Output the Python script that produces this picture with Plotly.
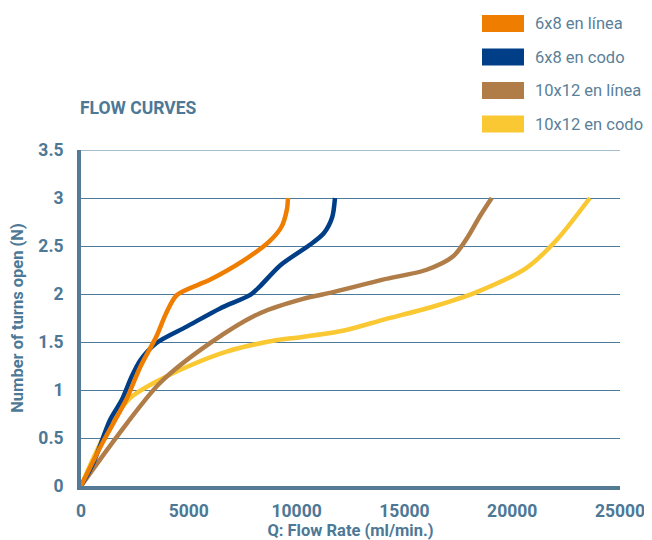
import plotly.graph_objects as go

# Data
names = ['6x8 en línea', '6x8 en codo', '10x12 en línea', '10x12 en codo']
colors = ['#EF7D00', '#003F87', '#B07D48', '#FAC832']

q_6x8_linea = [0, 1000, 2100, 2750, 3500, 3950, 4450, 6000, 7550, 8750, 9300, 9550, 9600]
n_6x8_linea = [0, 0.45, 0.9, 1.24, 1.56, 1.80, 1.99, 2.15, 2.35, 2.55, 2.70, 2.88, 3.0]

q_6x8_codo = [0, 570, 1350, 1900, 2350, 2750, 3500, 4900, 6450, 7850, 8300, 9250, 10600, 11250, 11650, 11780]
n_6x8_codo = [0, 0.24, 0.69, 0.9, 1.14, 1.31, 1.49, 1.66, 1.85, 1.99, 2.08, 2.30, 2.51, 2.63, 2.80, 3.0]

q_10x12_linea = [0, 1650, 3650, 6000, 8300, 10300, 11700, 14000, 16000, 17250, 17900, 18500, 19050]
n_10x12_linea = [0, 0.51, 1.07, 1.49, 1.80, 1.95, 2.02, 2.15, 2.25, 2.39, 2.58, 2.81, 3.0]

q_10x12_codo = [0, 1050, 2250, 3350, 4900, 6750, 9100, 10200, 12200, 14000, 16350, 18350, 20650, 22050, 23600]
n_10x12_codo = [0, 0.51, 0.91, 1.07, 1.24, 1.40, 1.52, 1.55, 1.62, 1.73, 1.87, 2.02, 2.27, 2.56, 3.0]

x_ticks = [0, 5000, 10000, 15000, 20000, 25000]
y_ticks = [0, 0.5, 1, 1.5, 2, 2.5, 3, 3.5]
y_labels = ['0', '0.5', '1', '1.5', '2', '2.5', '3', '3.5']

series = [
    (q_10x12_codo, n_10x12_codo, 3),
    (q_10x12_linea, n_10x12_linea, 2),
    (q_6x8_codo, n_6x8_codo, 1),
    (q_6x8_linea, n_6x8_linea, 0),
]

txt = '#4D7896'
grid = '#4D7A99'
OFF = 8  # page body margin
W, H = 652 - OFF, 540 - OFF
L, R, T, B = 81 - OFF, 32, 150 - OFF, 54

fig = go.Figure()

for q, n, i in series:
    fig.add_trace(go.Scatter(
        x=q, y=n, mode='lines', name=names[i],
        line=dict(color=colors[i], width=4.5, shape='spline', smoothing=0.8),
        showlegend=False,
    ))

# Legend drawn as big swatches + labels (top right), positions in page pixels
pw, ph = W - L - R, H - T - B
def px_x(p):
    return (p - OFF - L) / pw
def px_y(p):
    return (H - B - (p - OFF)) / ph

# top gridline (plotly skips the one at the range edge)
shapes = [dict(type='line', xref='paper', yref='y', x0=0, x1=1, y0=y_ticks[-1], y1=y_ticks[-1],
               line=dict(color=grid, width=1), layer='below')]
annotations = []
for k in range(len(names)):
    top = 15 + k * 33.5
    shapes.append(dict(type='rect', xref='paper', yref='paper',
                       x0=px_x(482), x1=px_x(524), y0=px_y(top + 17), y1=px_y(top),
                       fillcolor=colors[k], line=dict(width=0)))
    annotations.append(dict(xref='paper', yref='paper', x=px_x(533), y=px_y(top + 8.5),
                            text=names[k], showarrow=False, xanchor='left', yanchor='middle',
                            font=dict(size=16.5, color='#5A7F99', family='Roboto')))

fig.update_layout(
    width=W, height=H,
    margin=dict(l=L, r=R, t=T, b=B, autoexpand=False),
    paper_bgcolor='white', plot_bgcolor='white',
    font=dict(family='Roboto', color=txt),
    title=dict(text='<b>FLOW CURVES</b>', x=(80 - OFF) / W, xref='container',
               xanchor='left', y=1 - (108 - OFF) / H, yref='container', yanchor='middle',
               font=dict(size=17.5, color=txt)),
    shapes=shapes,
    annotations=annotations,
    xaxis=dict(
        range=[0, 25000], tickvals=x_ticks, ticktext=[str(v) for v in x_ticks],
        showgrid=False, zeroline=False,
        showline=True, linecolor='#557A96', linewidth=4,
        ticks='', ticklabelstandoff=6,
        tickfont=dict(size=17.5, color=txt, family='Roboto', weight='bold'),
        title=dict(text='<b>Q: Flow Rate (ml/min.)</b>', standoff=2,
                   font=dict(size=16.5, color=txt)),
    ),
    yaxis=dict(
        range=[0, 3.5], tickvals=y_ticks, ticktext=y_labels,
        showgrid=True, gridcolor=grid, gridwidth=1, zeroline=False,
        showline=True, linecolor='#557A96', linewidth=4,
        ticks='', ticklabelstandoff=10,
        tickfont=dict(size=17.5, color=txt, family='Roboto', weight='bold'),
        title=dict(text='<b>Number of turns open (N)</b>', standoff=12,
                   font=dict(size=16.5, color=txt)),
    ),
)

fig.write_html('out.html')
